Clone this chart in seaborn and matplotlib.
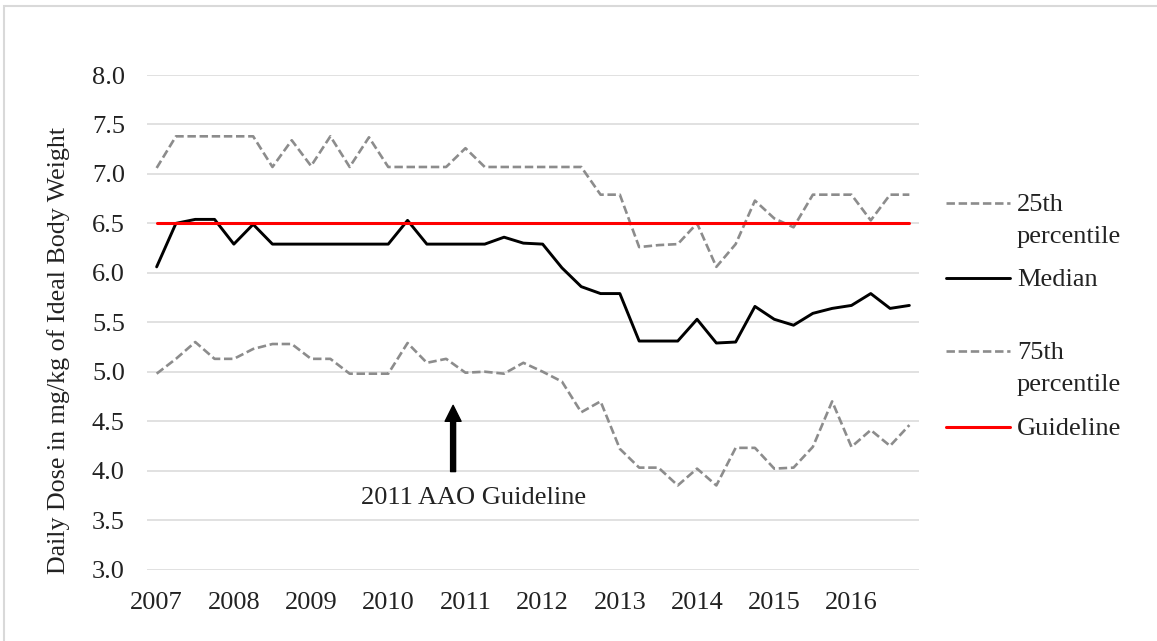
import numpy as np
import pandas as pd
import matplotlib
matplotlib.use("Agg")
import matplotlib.pyplot as plt
import seaborn as sns
from matplotlib.lines import Line2D
from matplotlib.patches import Rectangle

# quarterly values 2007 Q1 .. 2016 Q4
years = list(range(2007, 2017))
quarter = np.arange(2007, 2017, 0.25)

p25 = [7.06, 7.38, 7.38, 7.38, 7.38, 7.38, 7.07, 7.34, 7.08, 7.38,
       7.07, 7.37, 7.07, 7.07, 7.07, 7.07, 7.26, 7.07, 7.07, 7.07,
       7.07, 7.07, 7.07, 6.79, 6.79, 6.26, 6.28, 6.29, 6.50, 6.06,
       6.29, 6.73, 6.55, 6.46, 6.79, 6.79, 6.79, 6.53, 6.79, 6.79]
median = [6.06, 6.50, 6.54, 6.54, 6.29, 6.49, 6.29, 6.29, 6.29, 6.29,
          6.29, 6.29, 6.29, 6.53, 6.29, 6.29, 6.29, 6.29, 6.36, 6.30,
          6.29, 6.05, 5.86, 5.79, 5.79, 5.31, 5.31, 5.31, 5.53, 5.29,
          5.30, 5.66, 5.53, 5.47, 5.59, 5.64, 5.67, 5.79, 5.64, 5.67]
p75 = [4.98, 5.13, 5.30, 5.13, 5.13, 5.23, 5.28, 5.28, 5.13, 5.13,
       4.98, 4.98, 4.98, 5.29, 5.09, 5.13, 4.99, 5.00, 4.98, 5.09,
       5.00, 4.90, 4.59, 4.70, 4.22, 4.03, 4.03, 3.85, 4.02, 3.85,
       4.23, 4.23, 4.02, 4.03, 4.24, 4.70, 4.24, 4.41, 4.25, 4.46]
guideline = [6.5] * 40

df = pd.DataFrame({"quarter": quarter, "p25": p25, "median": median,
                   "p75": p75, "guideline": guideline})

sns.set_theme(style="white")
plt.rcParams["font.family"] = ["Liberation Serif", "DejaVu Serif"]
FS = 19
W, H = 1157, 641

fig = plt.figure(figsize=(W / 100, H / 100), dpi=100)
ax = fig.add_axes([147 / W, 1 - 569.5 / H, 772 / W, 494.5 / H])

gray = "#8C8C8C"
dash = (0, (3.2, 1.4))
sns.lineplot(data=df, x="quarter", y="p25", ax=ax, color=gray, lw=1.9, linestyle=dash)
sns.lineplot(data=df, x="quarter", y="median", ax=ax, color="black", lw=2.1)
sns.lineplot(data=df, x="quarter", y="p75", ax=ax, color=gray, lw=1.9, linestyle=dash)
sns.lineplot(data=df, x="quarter", y="guideline", ax=ax, color="#FF0000", lw=2.2)

ax.set_xlim(2007 - 0.125, 2016.75 + 0.125)
ax.set_ylim(3, 8)
ax.set_yticks(np.arange(3, 8.01, 0.5))
ax.set_yticklabels([f"{v:.1f}" for v in np.arange(3, 8.01, 0.5)], fontsize=FS)
ax.set_xticks(years)
ax.set_xticklabels([str(y) for y in years], fontsize=FS)
ax.tick_params(axis="both", length=0, colors="#222222")
ax.tick_params(axis="y", pad=16)
ax.tick_params(axis="x", pad=16)
ax.grid(axis="y", color="#D9D9D9", lw=1.1)
ax.set_axisbelow(True)
for s in ax.spines.values():
    s.set_visible(False)
ax.set_xlabel("")
ax.set_ylabel("Daily Dose in mg/kg of Ideal Body Weight", fontsize=18.7, color="#222222")
ax.yaxis.set_label_coords(-0.100, 0.442)

ax.annotate("", xy=(2010.84, 4.66), xytext=(2010.84, 3.99),
            arrowprops=dict(facecolor="black", edgecolor="black", width=3.6,
                            headwidth=11.5, headlength=11.5, shrink=0))
ax.text(2011.10, 3.72, "2011 AAO Guideline", ha="center", va="center", fontsize=FS, color="#222222")

# legend on the right
def fy(py):
    return 1 - py / H

entries = [(203, gray, dash, 1.9, ["25th", "percentile"]),
           (278, "black", "-", 2.1, ["Median"]),
           (351, gray, dash, 1.9, ["75th", "percentile"]),
           (427, "#FF0000", "-", 2.2, ["Guideline"])]
for py, c, ls, lw, lines in entries:
    fig.add_artist(Line2D([946 / W, 1010 / W], [fy(py), fy(py)], color=c, lw=lw, linestyle=ls))
    for k, t in enumerate(lines):
        fig.text(1017 / W, fy(py + 2 + 32 * k), t, ha="left", va="center", fontsize=FS, color="#222222")

fig.add_artist(Rectangle((4 / W, -0.05), 1.2, 1.05 - 6.5 / H, transform=fig.transFigure,
                         fill=False, edgecolor="#D9D9D9", lw=1.5))

fig.savefig("out.png", dpi=100)
